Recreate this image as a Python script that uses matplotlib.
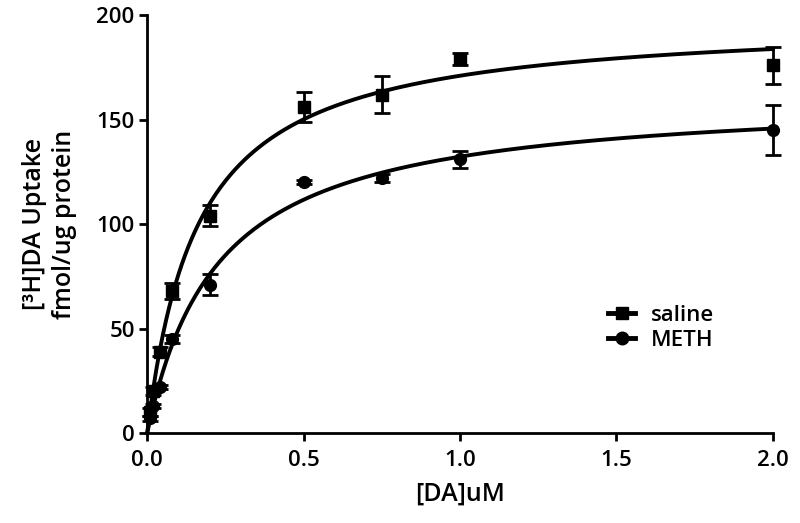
import matplotlib
matplotlib.use("Agg")
import matplotlib.pyplot as plt
from matplotlib.lines import Line2D
import numpy as np

plt.rcParams['font.family'] = ['Open Sans', 'DejaVu Sans']

# [DA] concentrations (uM)
conc = [0.01, 0.02, 0.04, 0.08, 0.2, 0.5, 0.75, 1.0, 2.0]

saline = [10, 20, 39, 68, 104, 156, 162, 179, 176]
saline_err = [2, 2, 2, 4, 5, 7, 9, 3, 9]

meth = [7, 13, 22, 45, 71, 120, 122, 131, 145]
meth_err = [1, 1, 1, 2, 5, 1, 2, 4, 12]


def fit_mm(x, y):
    # Michaelis-Menten least-squares fit: grid over Km, closed-form Vmax
    x = np.array(x)
    y = np.array(y)
    best = None
    for km in np.linspace(0.01, 1.0, 2000):
        f = x / (km + x)
        vmax = np.sum(f * y) / np.sum(f * f)
        sse = np.sum((y - vmax * f) ** 2)
        if best is None or sse < best[0]:
            best = (sse, vmax, km)
    return best[1], best[2]


fig = plt.figure(figsize=(8, 5.23), dpi=100)
ax = fig.add_axes([0.184, 0.172, 0.782, 0.799])

xs = np.linspace(0, 2.0, 400)
for y, err, marker, ms, label in [(saline, saline_err, 's', 9, 'saline'),
                                  (meth, meth_err, 'o', 8.5, 'METH')]:
    vmax, km = fit_mm(conc, y)
    ax.plot(xs, vmax * xs / (km + xs), color='k', linewidth=2.8, clip_on=False)
    ax.errorbar(conc, y, yerr=err, fmt=marker, color='k', markersize=ms,
                elinewidth=2, capsize=6, capthick=2, clip_on=False, label=label)

ax.set_xlim(0, 2.0)
ax.set_ylim(0, 200)
ax.set_xticks([0.0, 0.5, 1.0, 1.5, 2.0])
ax.set_xticklabels(['0.0', '0.5', '1.0', '1.5', '2.0'])
ax.set_yticks([0, 50, 100, 150, 200])

for s in ['top', 'right']:
    ax.spines[s].set_visible(False)
for s in ['left', 'bottom']:
    ax.spines[s].set_linewidth(2)
ax.tick_params(width=2, length=6, labelsize=16, colors='k')
ax.tick_params(axis='x', pad=6)
ax.tick_params(axis='y', pad=3)
for t in ax.get_xticklabels() + ax.get_yticklabels():
    t.set_fontweight('semibold')

ax.set_xlabel('[DA]uM', fontsize=18, fontweight='semibold', labelpad=8)
ax.set_ylabel('[³H]DA Uptake\nfmol/ug protein', fontsize=18,
              fontweight='semibold', labelpad=14, linespacing=1.25)

# legend
handles = [Line2D([], [], color='k', marker='s', markersize=9, linewidth=3.5),
           Line2D([], [], color='k', marker='o', markersize=9, linewidth=3.5)]
ax.legend(handles, ['saline', 'METH'], loc='upper left',
          bbox_to_anchor=(0.736, 0.306), frameon=False,
          handlelength=1.25, handletextpad=0.7, labelspacing=0.15,
          borderpad=0, borderaxespad=0,
          prop={'weight': 'semibold', 'size': 16})

fig.savefig('out.png', dpi=100)
